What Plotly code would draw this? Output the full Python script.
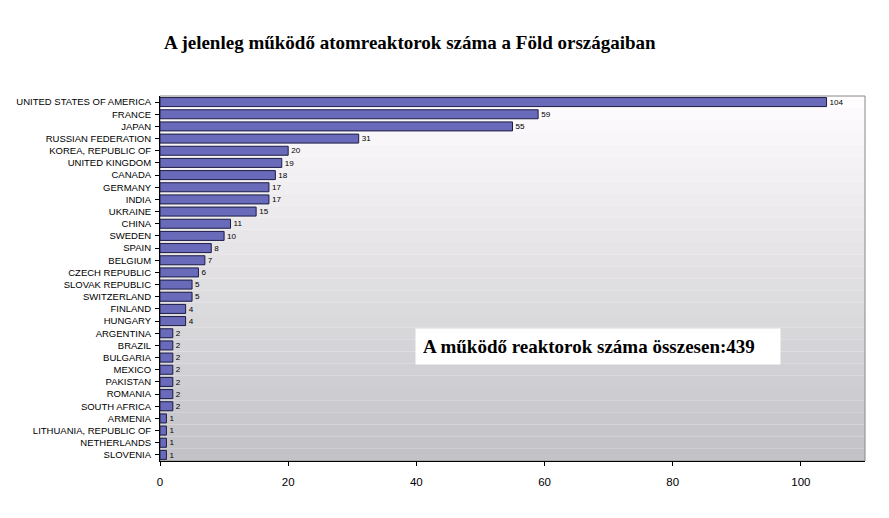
import plotly.graph_objects as go

countries = ["UNITED STATES OF AMERICA", "FRANCE", "JAPAN", "RUSSIAN FEDERATION",
             "KOREA, REPUBLIC OF", "UNITED KINGDOM", "CANADA", "GERMANY", "INDIA",
             "UKRAINE", "CHINA", "SWEDEN", "SPAIN", "BELGIUM", "CZECH REPUBLIC",
             "SLOVAK REPUBLIC", "SWITZERLAND", "FINLAND", "HUNGARY", "ARGENTINA",
             "BRAZIL", "BULGARIA", "MEXICO", "PAKISTAN", "ROMANIA", "SOUTH AFRICA",
             "ARMENIA", "LITHUANIA, REPUBLIC OF", "NETHERLANDS", "SLOVENIA"]
reactors = [104, 59, 55, 31, 20, 19, 18, 17, 17, 15, 11, 10, 8, 7, 6, 5, 5, 4, 4,
            2, 2, 2, 2, 2, 2, 2, 1, 1, 1, 1]
x_ticks = [0, 20, 40, 60, 80, 100]
title_text = "A jelenleg működő atomreaktorok száma a Föld országaiban"
total_text = "A működő reaktorok száma összesen:439"

fig = go.Figure()
fig.add_trace(go.Bar(
    y=countries, x=reactors, orientation="h",
    marker=dict(color="#6a6aba", line=dict(color="#1c1c44", width=1)),
    text=[str(v) for v in reactors], textposition="outside",
    textfont=dict(family="Liberation Sans, Arial", size=9, color="black"),
    cliponaxis=False, width=0.74,
))

# background gradient bands
shapes = []
n = 30
for i in range(n):
    t = i / (n - 1)
    r = int(255 - t * (255 - 195))
    g = int(253 - t * (253 - 194))
    b = int(254 - t * (254 - 199))
    shapes.append(dict(type="rect", xref="x domain", yref="y domain",
                       x0=0, x1=1, y0=1 - (i + 1) / n, y1=1 - i / n,
                       fillcolor=f"rgb({r},{g},{b})", line=dict(width=0),
                       layer="below"))
shapes.append(dict(type="rect", xref="x domain", yref="y domain",
                   x0=0, x1=1, y0=0, y1=1, line=dict(color="#888888", width=1),
                   layer="below"))
fig.update_layout(shapes=shapes)

fig.update_layout(
    width=889, height=518,
    margin=dict(l=152, r=32, t=88, b=65),
    paper_bgcolor="white", plot_bgcolor="white",
    showlegend=False,
    title=dict(text=title_text, x=0.452, xanchor="center", y=0.934, yanchor="middle",
               font=dict(family="Liberation Serif, Times New Roman", size=19, color="black",
                         weight="bold")),
    bargap=0.25,
)
fig.update_xaxes(range=[0, 110], tickvals=x_ticks, showgrid=False, zeroline=False,
                 showline=True, linecolor="black", linewidth=1, automargin=False,
                 ticks="outside", ticklen=4, tickcolor="black", ticklabelstandoff=6,
                 tickfont=dict(family="Liberation Sans, Arial", size=11.5, color="black"))
fig.update_yaxes(autorange="reversed", showgrid=False, showline=True, automargin=False,
                 linecolor="black", linewidth=1, ticks="outside", ticklen=4,
                 tickcolor="black", ticklabelstandoff=2,
                 tickfont=dict(family="Liberation Sans, Arial", size=9.5, color="black"))

fig.add_annotation(
    text=total_text, xref="paper", yref="paper",
    x=(598 - 160) / 705, y=(461 - 346) / 365, xanchor="center", yanchor="middle",
    showarrow=False, bgcolor="white", borderpad=7, width=350, align="left",
    font=dict(family="Liberation Serif, Times New Roman", size=19, color="black",
              weight="bold"),
)

fig.write_html("out.html")
